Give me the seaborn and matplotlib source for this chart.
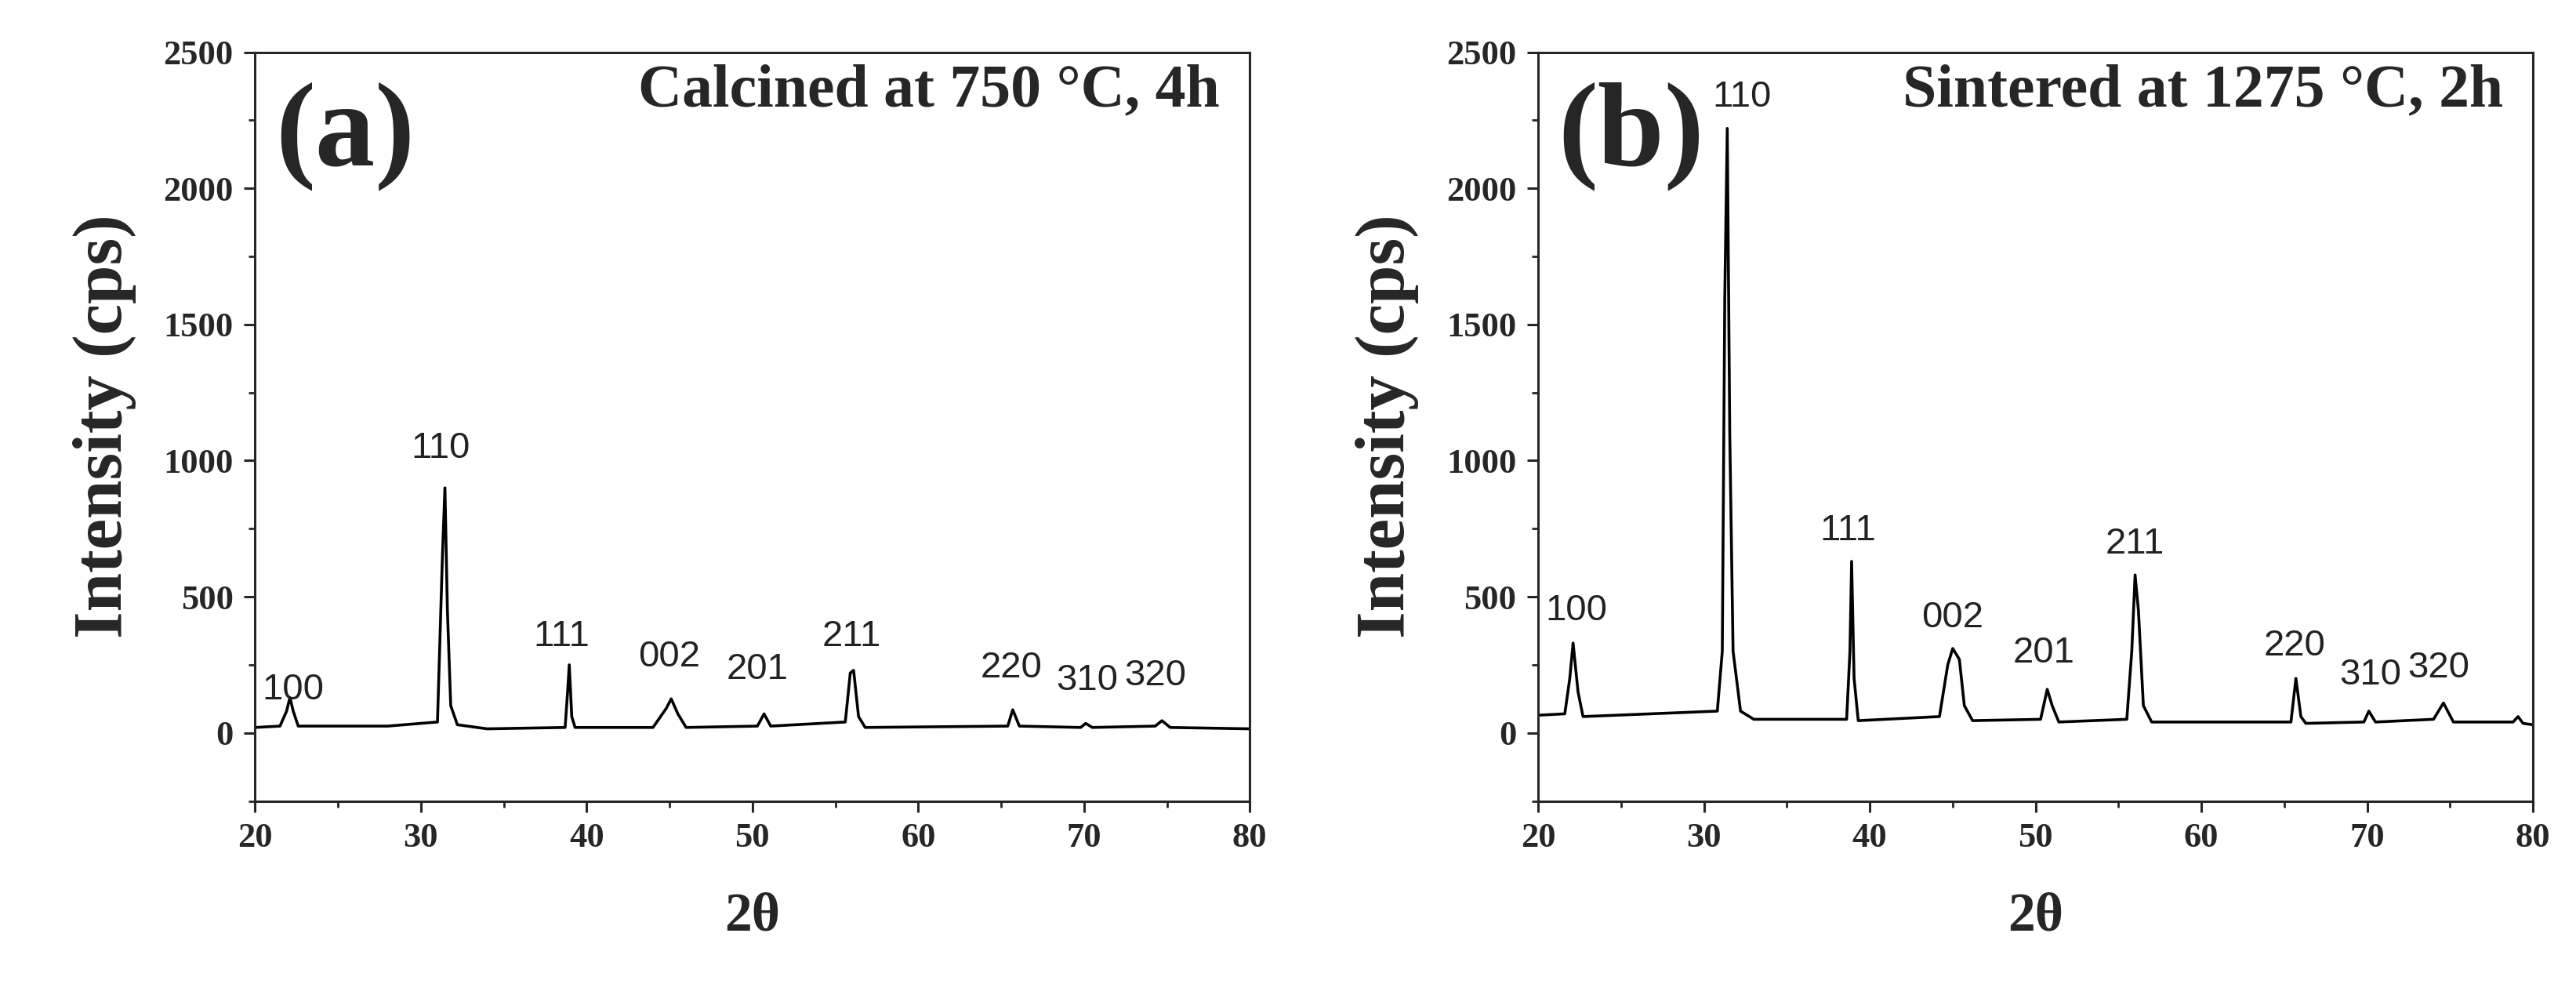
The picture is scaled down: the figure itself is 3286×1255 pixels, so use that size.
import matplotlib
matplotlib.use("Agg")
import matplotlib.pyplot as plt
import seaborn as sns
import pandas as pd
from matplotlib.ticker import MultipleLocator

sns.set_theme(style="ticks")
plt.rcParams['font.family'] = ['Liberation Serif', 'DejaVu Serif']

xa = [20, 21.5, 21.9, 22.1, 22.3, 22.6, 28, 31.0, 31.3, 31.45, 31.6, 31.8, 32.2, 34, 38.7, 38.85, 38.95, 39.1, 39.3,
      44, 44.8, 45.1, 45.5, 46, 50.3, 50.7, 51.1, 55.6, 55.9, 56.1, 56.4, 56.8, 65.4, 65.7, 66.1, 69.8, 70.1, 70.5,
      74.3, 74.7, 75.2, 80]
ya = [20, 25, 80, 130, 80, 25, 25, 40, 650, 900, 450, 100, 30, 15, 20, 150, 250, 60, 20,
      20, 90, 125, 70, 20, 25, 70, 25, 40, 220, 230, 60, 20, 25, 85, 25, 20, 35, 20,
      25, 45, 20, 15]
xb = [20, 21.6, 21.9, 22.1, 22.4, 22.7, 30.8, 31.1, 31.25, 31.4, 31.55, 31.75, 32.2, 33, 38.6, 38.8, 38.9, 39.05, 39.3,
      44.2, 44.7, 45.0, 45.4, 45.7, 46.2, 50.3, 50.7, 51.0, 51.4, 55.5, 55.8, 56.0, 56.2, 56.5, 57,
      65.4, 65.7, 66, 66.3, 69.8, 70.1, 70.5, 74.0, 74.6, 75.2, 78.8, 79.1, 79.4, 80]
yb = [65, 70, 200, 330, 150, 60, 80, 300, 1600, 2220, 1100, 300, 80, 50, 50, 300, 630, 200, 45,
      60, 250, 310, 270, 100, 45, 50, 160, 100, 40, 50, 300, 580, 450, 100, 40,
      40, 200, 60, 35, 40, 80, 40, 50, 110, 40, 40, 60, 35, 30]

hkl = ["100", "110", "111", "002", "201", "211", "220", "310", "320"]
lab_x_a = [22.3, 31.2, 38.5, 45.0, 50.3, 56.0, 65.6, 70.2, 74.3]
lab_y_a = [95, 980, 290, 215, 170, 290, 175, 130, 145]
lab_x_b = [22.3, 32.3, 38.7, 45.0, 50.5, 56.0, 65.6, 70.2, 74.3]
lab_y_b = [385, 2270, 680, 360, 230, 630, 255, 150, 175]

fig, axes = plt.subplots(1, 2, figsize=(32.87, 12.55), dpi=100)
fig.subplots_adjust(left=0.099, right=0.983, top=0.947, bottom=0.186, wspace=0.29)

panels = [(xa, ya, lab_x_a, lab_y_a, "(a)", "Calcined at 750 \u00b0C, 4h"),
          (xb, yb, lab_x_b, lab_y_b, "(b)", "Sintered at 1275 \u00b0C, 2h")]
for ax, (x, y, lx, ly, tag, title) in zip(axes, panels):
    df = pd.DataFrame({"x": x, "y": y})
    sns.lineplot(data=df, x="x", y="y", ax=ax, color="black", lw=2.6)
    ax.set_xlim(20, 80)
    ax.set_ylim(-250, 2500)
    ax.xaxis.set_major_locator(MultipleLocator(10))
    ax.xaxis.set_minor_locator(MultipleLocator(5))
    ax.yaxis.set_major_locator(MultipleLocator(500))
    ax.yaxis.set_minor_locator(MultipleLocator(250))
    ax.tick_params(which="major", direction="out", length=10, width=2.2, labelsize=32, pad=10)
    ax.tick_params(which="minor", direction="out", length=6, width=2)
    for lbl in ax.get_xticklabels() + ax.get_yticklabels():
        lbl.set_fontweight("bold")
    for s in ax.spines.values():
        s.set_linewidth(2.2)
    ax.set_xlabel("2\u03b8", fontsize=50, fontweight="bold", labelpad=35)
    ax.set_ylabel("Intensity (cps)", fontsize=64, fontweight="bold", labelpad=25)
    ax.text(0.02, 0.96, tag, transform=ax.transAxes, fontsize=110, fontweight="bold", va="top", ha="left")
    ax.text(0.97, 0.985, title, transform=ax.transAxes, fontsize=56, fontweight="bold", va="top", ha="right")
    for t, px, py in zip(hkl, lx, ly):
        ax.text(px, py, t, fontsize=34, ha="center", va="bottom", color="#222222",
                family=["Liberation Sans", "DejaVu Sans"])

fig.savefig("out.png", dpi=100)
